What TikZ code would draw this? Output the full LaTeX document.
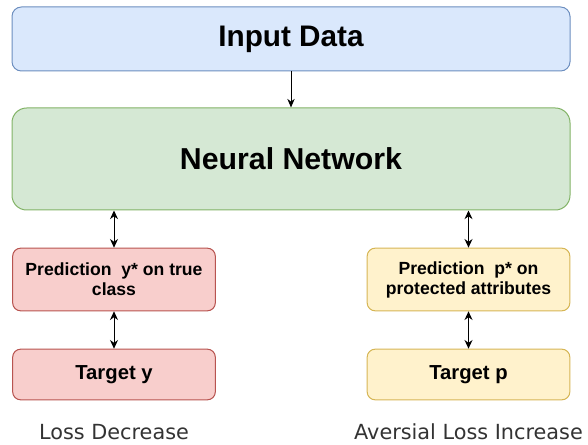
\documentclass[tikz,border=0pt]{standalone}
\usepackage{fontspec}
\setmainfont{Liberation Sans}
\newfontfamily\labelfont{DejaVu Sans}
\usetikzlibrary{arrows.meta}

\definecolor{inblue}{HTML}{DAE8FC}
\definecolor{inbluedraw}{HTML}{6C8EBF}
\definecolor{nngreen}{HTML}{D5E8D4}
\definecolor{nngreendraw}{HTML}{82B366}
\definecolor{predred}{HTML}{F8CECC}
\definecolor{predreddraw}{HTML}{B85450}
\definecolor{advyellow}{HTML}{FFF2CC}
\definecolor{advyellowdraw}{HTML}{D6B656}
\definecolor{losstext}{HTML}{333333}

\tikzset{
  blockbox/.style={draw, line width=0.75pt, rounded corners=7pt, inner sep=0pt,
    align=center, font=\bfseries},
  smallbox/.style={blockbox, minimum width=152pt, rounded corners=6pt},
  link/.style={line width=0.75pt, -{Stealth[length=6.5pt,width=5.5pt]}},
  twoway/.style={line width=0.75pt, {Stealth[length=6.5pt,width=6pt]}-{Stealth[length=6.5pt,width=6pt]}},
  losslabel/.style={font=\labelfont\fontsize{15.6}{18}\selectfont, text=losstext}
}

\begin{document}
\begin{tikzpicture}[x=0.75pt,y=0.75pt,yscale=-1,xscale=1]
\useasboundingbox (0,0) rectangle (588,445);

% Input and network
\node (inp) [blockbox, fill=inblue, draw=inbluedraw, minimum width=418.5pt, minimum height=48pt,
  font=\bfseries\fontsize{22.3}{26}\selectfont] at (291,39) {Input Data};
\node (nn) [blockbox, fill=nngreen, draw=nngreendraw, minimum width=418.5pt, minimum height=76.5pt,
  rounded corners=11pt, font=\bfseries\fontsize{22.7}{26}\selectfont] at (291,159) {Neural Network};

% Left branch
\node (predy) [smallbox, fill=predred, draw=predreddraw, minimum height=47pt,
  font=\bfseries\fontsize{13.2}{15}\selectfont] at (114,279.5) {Prediction\ \ y* on true\\class};
\node (targy) [smallbox, fill=predred, draw=predreddraw, minimum height=38pt,
  font=\bfseries\fontsize{15.2}{18}\selectfont] at (114,374.5) {Target y};

% Right branch
\node (predp) [smallbox, fill=advyellow, draw=advyellowdraw, minimum height=47pt,
  font=\bfseries\fontsize{13.2}{15}\selectfont] at (468.5,279.5) {Prediction\ \ p* on\\protected attributes};
\node (targp) [smallbox, fill=advyellow, draw=advyellowdraw, minimum height=38pt,
  font=\bfseries\fontsize{15.2}{18}\selectfont] at (468.5,374.5) {Target p};

% Connectors
\draw [link] (inp) -- (nn);
\draw [twoway] (predy.north |- nn.south) -- (predy.north);
\draw [twoway] (predy) -- (targy);
\draw [twoway] (predp.north |- nn.south) -- (predp.north);
\draw [twoway] (predp) -- (targp);

% Loss labels
\node (lossdec) [losslabel] at (114,432) {Loss Decrease};
\node (lossinc) [losslabel] at (468.5,432) {Aversial Loss Increase};

\end{tikzpicture}
\end{document}
